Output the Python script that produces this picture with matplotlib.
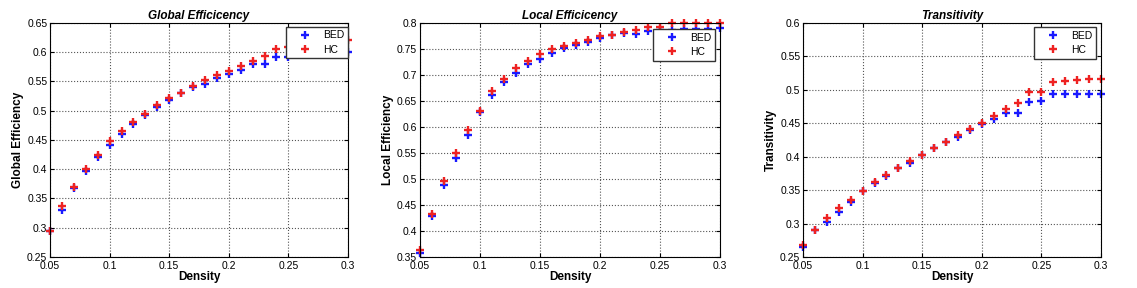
import matplotlib
matplotlib.use('Agg')
import matplotlib.pyplot as plt
import numpy as np

plt.rcParams['font.family'] = ['Liberation Sans', 'DejaVu Sans']

density = [0.05, 0.06, 0.07, 0.08, 0.09, 0.10, 0.11, 0.12, 0.13, 0.14, 0.15,
           0.16, 0.17, 0.18, 0.19, 0.20, 0.21, 0.22, 0.23, 0.24, 0.25,
           0.26, 0.27, 0.28, 0.29, 0.30]

ge_bed = [0.294, 0.331, 0.368, 0.397, 0.421, 0.442, 0.461, 0.478, 0.493, 0.507, 0.519,
          0.530, 0.541, 0.546, 0.555, 0.562, 0.570, 0.579, 0.579, 0.591, 0.591,
          0.595, 0.597, 0.598, 0.599, 0.600]
ge_hc = [0.295, 0.337, 0.369, 0.400, 0.425, 0.448, 0.465, 0.481, 0.494, 0.509, 0.521,
         0.531, 0.542, 0.552, 0.561, 0.568, 0.576, 0.585, 0.594, 0.606, 0.608,
         0.610, 0.613, 0.615, 0.618, 0.621]

le_bed = [0.358, 0.428, 0.488, 0.540, 0.584, 0.628, 0.661, 0.687, 0.704, 0.720, 0.731,
          0.743, 0.752, 0.758, 0.764, 0.770, 0.777, 0.780, 0.779, 0.785, 0.786,
          0.787, 0.788, 0.789, 0.789, 0.790]
le_hc = [0.363, 0.433, 0.497, 0.550, 0.594, 0.631, 0.669, 0.692, 0.713, 0.727, 0.741,
         0.749, 0.756, 0.762, 0.768, 0.774, 0.777, 0.782, 0.786, 0.793, 0.793,
         0.799, 0.799, 0.800, 0.800, 0.800]

tr_bed = [0.265, 0.290, 0.303, 0.318, 0.332, 0.348, 0.360, 0.371, 0.383, 0.391, 0.402,
          0.413, 0.422, 0.429, 0.440, 0.449, 0.457, 0.466, 0.466, 0.482, 0.483,
          0.494, 0.494, 0.494, 0.494, 0.494]
tr_hc = [0.268, 0.291, 0.309, 0.323, 0.335, 0.348, 0.362, 0.373, 0.383, 0.393, 0.402,
         0.413, 0.422, 0.433, 0.441, 0.450, 0.461, 0.471, 0.480, 0.496, 0.496,
         0.511, 0.513, 0.515, 0.516, 0.516]

panels = [
    ('Global Efficicency', 'Global Efficiency', ge_bed, ge_hc, (0.25, 0.65),
     np.arange(0.25, 0.651, 0.05), [0.044, 0.1076, 0.262, 0.813], (1.0, 0.983)),
    ('Local Efficicency', 'Local Efficiency', le_bed, le_hc, (0.35, 0.8),
     np.arange(0.35, 0.801, 0.05), [0.3694, 0.1076, 0.264, 0.813], (0.983, 0.973)),
    ('Transitivity', 'Transitivity', tr_bed, tr_hc, (0.25, 0.6),
     np.arange(0.25, 0.601, 0.05), [0.7063, 0.1076, 0.262, 0.813], (0.983, 0.982)),
]

fig = plt.figure(figsize=(11.37, 2.88), dpi=100)

for title, ylabel, bed, hc, ylim, yticks, pos, anchor in panels:
    ax = fig.add_axes(pos)
    ax.plot(density, bed, linestyle='none', marker='+', color='#1a1aff',
            markersize=5.5, markeredgewidth=1.7, label='BED', clip_on=False)
    ax.plot(density, hc, linestyle='none', marker='+', color='#ee2222',
            markersize=5.5, markeredgewidth=1.7, label='HC', clip_on=False)
    ax.set_xlim(0.05, 0.3)
    ax.set_ylim(*ylim)
    ax.set_xticks([0.05, 0.1, 0.15, 0.2, 0.25, 0.3])
    ax.set_xticklabels(['0.05', '0.1', '0.15', '0.2', '0.25', '0.3'])
    ax.set_yticks(yticks)
    ax.set_yticklabels(['%g' % round(v, 2) for v in yticks])
    ax.tick_params(direction='in', length=3, labelsize=7.5, top=True, right=True)
    ax.tick_params(axis='x', pad=3)
    ax.tick_params(axis='y', pad=2)
    ax.grid(True, linestyle=':', color='#555555', linewidth=0.8)
    ax.set_title(title, fontsize=8.5, fontweight='bold', style='italic', pad=3)
    ax.set_xlabel('Density', fontsize=8.5, fontweight='bold', labelpad=0)
    ax.set_ylabel(ylabel, fontsize=8.5, fontweight='bold', labelpad=2)
    for s in ax.spines.values():
        s.set_linewidth(0.8)
    leg = ax.legend(loc='upper right', bbox_to_anchor=anchor, fontsize=7.5,
                    fancybox=False, framealpha=1, edgecolor='#333333',
                    handlelength=3.0, handletextpad=0.2, borderpad=0.35,
                    labelspacing=0.4, borderaxespad=0)
    leg.get_frame().set_linewidth(1.0)
    leg.set_zorder(5)

plt.savefig('out.png', dpi=100)
